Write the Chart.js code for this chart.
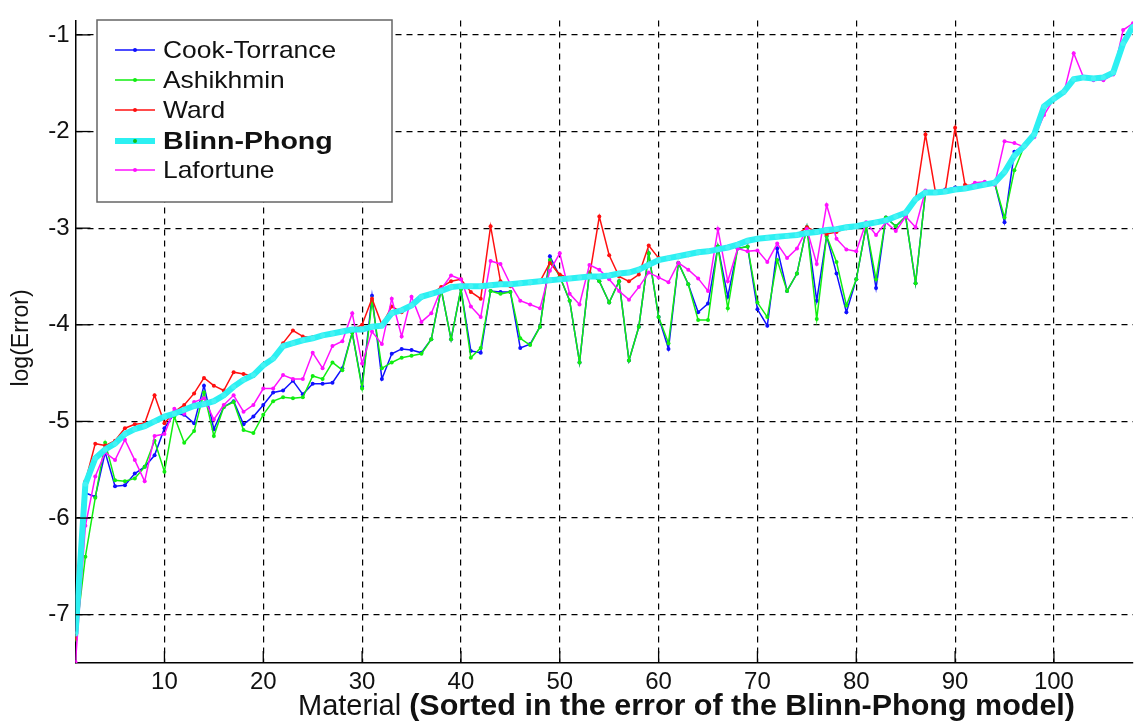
<!DOCTYPE html>
<html>
<head>
<meta charset="utf-8">
<script src="https://cdn.jsdelivr.net/npm/chart.js@4.4.1/dist/chart.umd.min.js"></script>
<style>
  html, body { margin: 0; padding: 0; background: #fff; }
  #wrap { width: 1137px; height: 722px; }
</style>
</head>
<body>
<div id="wrap"><canvas id="errChart" width="1137" height="722"></canvas></div>
<script>
// material index 1..108 (sorted by Blinn-Phong error)
const materials = [];
for (let i = 1; i <= 108; i++) materials.push(i);

const xTicks = [10, 20, 30, 40, 50, 60, 70, 80, 90, 100];
const yTicks = [-7, -6, -5, -4, -3, -2, -1];

const cookTorrance = [
  -7.22, -5.74, -5.78, -5.32, -5.67, -5.66, -5.54, -5.47, -5.35, -5.07,
  -4.92, -4.93, -5.02, -4.63, -5.08, -4.85, -4.79, -5.03, -4.95, -4.83,
  -4.70, -4.68, -4.58, -4.72, -4.61, -4.61, -4.60, -4.45, -4.08, -4.64,
  -3.70, -4.56, -4.30, -4.25, -4.26, -4.29, -4.15, -3.63, -4.15, -3.63,
  -4.27, -4.29, -3.65, -3.66, -3.66, -4.24, -4.20, -4.02, -3.29, -3.50,
  -3.75, -4.39, -3.46, -3.55, -3.77, -3.55, -4.37, -4.02, -3.26, -3.92,
  -4.25, -3.36, -3.58, -3.87, -3.78, -3.19, -3.71, -3.21, -3.19, -3.84,
  -4.01, -3.21, -3.65, -3.47, -2.99, -3.75, -3.08, -3.47, -3.87, -3.53,
  -2.98, -3.62, -2.89, -2.98, -2.88, -3.57, -2.63, -2.62, -2.60, -2.58,
  -2.58, -2.57, -2.55, -2.53, -2.94, -2.21, -2.15, -2.03, -1.74, -1.66,
  -1.59, -1.46, -1.44, -1.45, -1.44, -1.39, -1.09, -0.91
];

const ashikhmin = [
  -7.26, -6.40, -5.79, -5.22, -5.61, -5.62, -5.59, -5.47, -5.20, -5.52,
  -4.95, -5.22, -5.10, -4.70, -5.15, -4.85, -4.80, -5.09, -5.12, -4.93,
  -4.79, -4.75, -4.76, -4.75, -4.53, -4.56, -4.39, -4.47, -4.08, -4.66,
  -3.75, -4.45, -4.39, -4.34, -4.32, -4.30, -4.15, -3.63, -4.15, -3.63,
  -4.34, -4.24, -3.65, -3.68, -3.66, -4.14, -4.21, -4.02, -3.33, -3.50,
  -3.75, -4.39, -3.46, -3.55, -3.77, -3.55, -4.37, -4.02, -3.26, -3.92,
  -4.19, -3.36, -3.58, -3.95, -3.95, -3.19, -3.83, -3.21, -3.19, -3.77,
  -3.92, -3.33, -3.65, -3.47, -2.99, -3.94, -3.08, -3.35, -3.80, -3.53,
  -2.98, -3.53, -2.89, -2.98, -2.88, -3.57, -2.63, -2.62, -2.61, -2.60,
  -2.59, -2.57, -2.55, -2.53, -2.89, -2.40, -2.15, -2.03, -1.74, -1.66,
  -1.59, -1.46, -1.44, -1.45, -1.44, -1.39, -1.09, -0.91
];

const ward = [
  -7.25, -5.62, -5.23, -5.25, -5.20, -5.07, -5.03, -5.02, -4.73, -5.02,
  -4.90, -4.83, -4.71, -4.55, -4.63, -4.68, -4.49, -4.51, -4.53, -4.41,
  -4.34, -4.19, -4.06, -4.12, -4.13, -4.11, -4.09, -4.07, -4.05, -4.00,
  -3.73, -4.00, -3.81, -3.87, -3.80, -3.72, -3.68, -3.61, -3.55, -3.53,
  -3.66, -3.73, -2.98, -3.55, -3.60, -3.57, -3.57, -3.55, -3.36, -3.48,
  -3.52, -3.51, -3.50, -2.88, -3.28, -3.50, -3.55, -3.48, -3.18, -3.31,
  -3.32, -3.30, -3.28, -3.26, -3.24, -3.22, -3.20, -3.17, -3.14, -3.11,
  -3.10, -3.09, -3.08, -3.07, -2.99, -3.04, -3.06, -3.04, -3.00, -2.98,
  -2.96, -2.94, -2.92, -2.88, -2.84, -2.70, -2.03, -2.62, -2.62, -1.96,
  -2.55, -2.57, -2.55, -2.53, -2.42, -2.25, -2.15, -2.03, -1.74, -1.66,
  -1.59, -1.46, -1.44, -1.45, -1.44, -1.39, -1.09, -0.91
];

const blinnPhong = [
  -7.20, -5.65, -5.38, -5.29, -5.23, -5.13, -5.08, -5.05, -5.00, -4.95,
  -4.92, -4.88, -4.84, -4.82, -4.79, -4.73, -4.64, -4.57, -4.52, -4.42,
  -4.35, -4.22, -4.19, -4.16, -4.14, -4.11, -4.09, -4.07, -4.05, -4.05,
  -4.02, -4.01, -3.88, -3.85, -3.80, -3.71, -3.68, -3.65, -3.61, -3.60,
  -3.60, -3.60, -3.59, -3.58, -3.58, -3.57, -3.56, -3.55, -3.54, -3.53,
  -3.52, -3.51, -3.50, -3.50, -3.49, -3.47, -3.46, -3.43, -3.38, -3.33,
  -3.31, -3.29, -3.27, -3.25, -3.24, -3.22, -3.20, -3.17, -3.13, -3.11,
  -3.10, -3.09, -3.08, -3.07, -3.05, -3.04, -3.02, -3.01, -2.99, -2.98,
  -2.96, -2.94, -2.92, -2.88, -2.84, -2.70, -2.63, -2.63, -2.62, -2.60,
  -2.59, -2.57, -2.55, -2.53, -2.42, -2.25, -2.15, -2.03, -1.74, -1.66,
  -1.59, -1.46, -1.44, -1.45, -1.44, -1.39, -1.09, -0.91
];

const lafortune = [
  -7.49, -6.08, -5.57, -5.32, -5.40, -5.19, -5.40, -5.62, -5.15, -5.13,
  -4.87, -4.92, -4.80, -4.76, -4.98, -4.83, -4.73, -4.90, -4.83, -4.66,
  -4.66, -4.52, -4.56, -4.56, -4.29, -4.45, -4.22, -4.17, -3.88, -4.40,
  -4.07, -4.20, -3.73, -4.12, -3.71, -3.97, -3.88, -3.63, -3.49, -3.53,
  -3.81, -3.92, -3.34, -3.37, -3.58, -3.75, -3.79, -3.83, -3.44, -3.26,
  -3.68, -3.79, -3.38, -3.43, -3.53, -3.65, -3.74, -3.61, -3.46, -3.51,
  -3.56, -3.36, -3.43, -3.52, -3.65, -3.01, -3.55, -3.21, -3.24, -3.23,
  -3.35, -3.16, -3.31, -3.21, -3.01, -3.37, -2.76, -3.11, -3.22, -3.24,
  -2.94, -3.07, -2.94, -3.03, -2.88, -2.99, -2.61, -2.62, -2.61, -2.59,
  -2.58, -2.53, -2.52, -2.55, -2.10, -2.12, -2.16, -2.06, -1.83, -1.66,
  -1.60, -1.19, -1.44, -1.47, -1.47, -1.41, -0.95, -0.88
];

const FONT = "'Liberation Sans', Arial, sans-serif";

function pts(vals) {
  return vals.map((v, i) => ({ x: materials[i], y: v }));
}

function thin(label, vals, color, order) {
  return {
    label,
    data: pts(vals),
    borderColor: color,
    backgroundColor: color,
    borderWidth: 1.5,
    pointRadius: 2,
    pointBorderWidth: 0,
    pointBackgroundColor: color,
    tension: 0,
    order,
  };
}

const datasets = [
  thin("Cook-Torrance", cookTorrance, "#1010ff", 5),
  thin("Ashikhmin", ashikhmin, "#10ee10", 4),
  thin("Ward", ward, "#ff1010", 3),
  {
    label: "Blinn-Phong",
    data: pts(blinnPhong),
    borderColor: "#2cf0f2",
    backgroundColor: "#2cf0f2",
    borderWidth: 6,
    pointRadius: 2.5,
    pointBorderWidth: 0,
    pointBackgroundColor: "#46f3f4",
    tension: 0,
    order: 1,
  },
  thin("Lafortune", lafortune, "#ff10ff", 2),
];

// draw text stretched horizontally (the source figure is wider than tall)
function stretchedText(ctx, text, x, y, sx) {
  ctx.save();
  ctx.translate(x, y);
  ctx.scale(sx, 1);
  ctx.fillText(text, 0, 0);
  ctx.restore();
}

// legend box, inner tick marks and axis titles
const decorations = {
  id: "decorations",
  afterDraw(chart) {
    const ctx = chart.ctx;
    const xs = chart.scales.x, ys = chart.scales.y;
    const area = chart.chartArea;
    ctx.save();

    // short solid ticks inside the axes
    ctx.strokeStyle = "#000";
    ctx.lineWidth = 1.3;
    ctx.setLineDash([]);
    yTicks.forEach(v => {
      const y = ys.getPixelForValue(v);
      ctx.beginPath();
      ctx.moveTo(area.left, y);
      ctx.lineTo(area.left + 15, y);
      ctx.stroke();
    });
    xTicks.forEach(v => {
      const x = xs.getPixelForValue(v);
      ctx.beginPath();
      ctx.moveTo(x, area.bottom);
      ctx.lineTo(x, area.bottom - 12);
      ctx.stroke();
    });

    // legend
    const bx = 97, by = 20, bw = 295, bh = 182;
    ctx.fillStyle = "#fff";
    ctx.fillRect(bx, by, bw, bh);
    ctx.strokeStyle = "#666";
    ctx.lineWidth = 1.5;
    ctx.strokeRect(bx, by, bw, bh);
    const rows = [50, 80, 110, 141, 170];
    ctx.textBaseline = "middle";
    ctx.textAlign = "left";
    datasets.forEach((ds, i) => {
      const y = rows[i];
      ctx.strokeStyle = ds.borderColor;
      ctx.lineWidth = ds.borderWidth;
      ctx.beginPath();
      ctx.moveTo(115, y);
      ctx.lineTo(155, y);
      ctx.stroke();
      ctx.fillStyle = ds.label === "Blinn-Phong" ? "#10c010" : ds.borderColor;
      ctx.beginPath();
      ctx.arc(135, y, 2, 0, Math.PI * 2);
      ctx.fill();
      ctx.fillStyle = "#111";
      const bold = ds.label === "Blinn-Phong";
      ctx.font = (bold ? "bold " : "") + "24px " + FONT;
      stretchedText(ctx, ds.label, 163, y + 1, bold ? 1.19 : 1.1);
    });

    // y title
    ctx.save();
    ctx.translate(22, 338);
    ctx.rotate(-Math.PI / 2);
    ctx.textAlign = "center";
    ctx.fillStyle = "#111";
    ctx.font = "23px " + FONT;
    ctx.fillText("log(Error)", 0, 0);
    ctx.restore();

    // x title: normal + bold part
    ctx.textBaseline = "alphabetic";
    ctx.textAlign = "left";
    ctx.fillStyle = "#111";
    ctx.font = "29px " + FONT;
    const t1 = "Material ";
    ctx.fillText(t1, 298, 715);
    const w1 = ctx.measureText(t1).width;
    ctx.font = "bold 29px " + FONT;
    const t2 = "(Sorted in the error of the Blinn-Phong model)";
    const w2 = ctx.measureText(t2).width;
    const x2 = 298 + w1;
    stretchedText(ctx, t2, x2, 715, (1075 - x2) / w2);

    ctx.restore();
  }
};

const config = {
  type: "line",
  data: { datasets },
  options: {
    responsive: false,
    animation: false,
    layout: { padding: { top: 7, right: 3, left: 0, bottom: 0 } },
    scales: {
      x: {
        type: "linear",
        min: 1,
        max: 108,
        afterBuildTicks: s => { s.ticks = xTicks.map(v => ({ value: v })); },
        afterFit: s => { s.height = 59; },
        grid: { color: "#000", lineWidth: 1.2, drawTicks: false },
        border: { display: true, color: "#000", width: 1.5, dash: [6, 5] },
        ticks: { padding: 5, color: "#111", font: { family: FONT, size: 24 } },
      },
      y: {
        min: -7.5,
        max: -0.85,
        afterBuildTicks: s => { s.ticks = yTicks.map(v => ({ value: v })); },
        afterFit: s => { s.width = 75.5; },
        grid: { color: "#000", lineWidth: 1.2, drawTicks: false },
        border: { display: true, color: "#000", width: 1.5, dash: [6, 5] },
        ticks: { padding: 6, color: "#111", font: { family: FONT, size: 24 } },
      },
    },
    plugins: {
      legend: { display: false },
      tooltip: { enabled: false },
    },
  },
  plugins: [decorations],
};

const errChart = new Chart(document.getElementById("errChart"), config);
</script>
</body>
</html>
